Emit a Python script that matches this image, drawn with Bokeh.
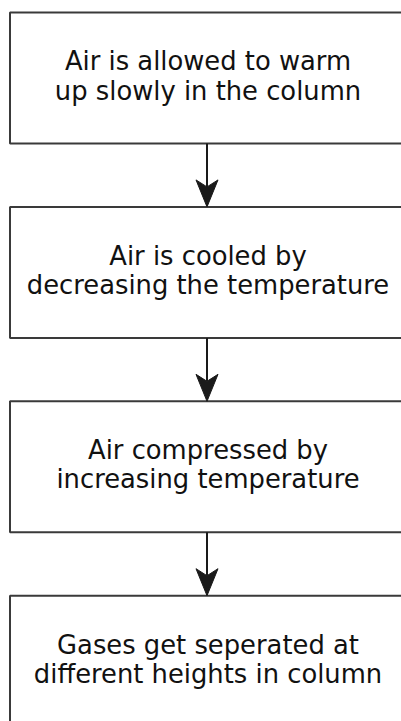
from bokeh.plotting import figure
from bokeh.models import ColumnDataSource, Range1d
from bokeh.core.properties import value
from bokeh.embed import file_html
from bokeh.resources import INLINE

# Flowchart steps (text content)
steps = [
    "Air is allowed to warm\nup slowly in the column",
    "Air is cooled by\ndecreasing the temperature",
    "Air compressed by\nincreasing temperature",
    "Gases get seperated at\ndifferent heights in column",
]

W, H = 401, 721
p = figure(width=W, height=H, output_backend="svg", toolbar_location=None,
           x_range=Range1d(0, W), y_range=Range1d(H, 0), min_border=0)
p.axis.visible = False
p.grid.visible = False
p.outline_line_color = None
p.background_fill_color = "white"
p.border_fill_color = "white"

box_left, box_right = 9.5, 401.5
box_h = 131
tops = [12 + 194.4 * i for i in range(len(steps))]
src = ColumnDataSource(dict(
    left=[box_left] * len(steps),
    right=[box_right] * len(steps),
    top=tops,
    bottom=[t + box_h for t in tops],
    cx=[207.5] * len(steps),
    cy=[t + box_h / 2 - 2 for t in tops],
    text=steps,
))
p.quad(left="left", right="right", top="top", bottom="bottom", source=src,
       fill_color="white", line_color="#3a3a3a", line_width=2)
p.text(x="cx", y="cy", text="text", source=src, text_align="center",
       text_baseline="middle", text_font=value("DejaVu Sans"),
       text_font_size="25.8px", text_color="#111111", text_line_height=0.98)

# connectors: line plus notched arrowhead derived from box positions
ax = 206.5
hw, hl, notch = 11, 27, 7
seg_x0, seg_y0, seg_x1, seg_y1 = [], [], [], []
hx, hy = [], []
for i in range(len(steps) - 1):
    y0 = tops[i] + box_h
    y1 = tops[i + 1]
    seg_x0.append(ax); seg_y0.append(y0); seg_x1.append(ax); seg_y1.append(y1 - hl + notch)
    hx.append([ax, ax - hw, ax, ax + hw])
    hy.append([y1, y1 - hl, y1 - hl + notch, y1 - hl])
p.segment(x0=seg_x0, y0=seg_y0, x1=seg_x1, y1=seg_y1, line_color="#1a1a1a", line_width=2)
p.patches(xs=hx, ys=hy, fill_color="#1a1a1a", line_color="#1a1a1a", line_width=1)

open("out.html", "w").write(file_html(p, INLINE))
